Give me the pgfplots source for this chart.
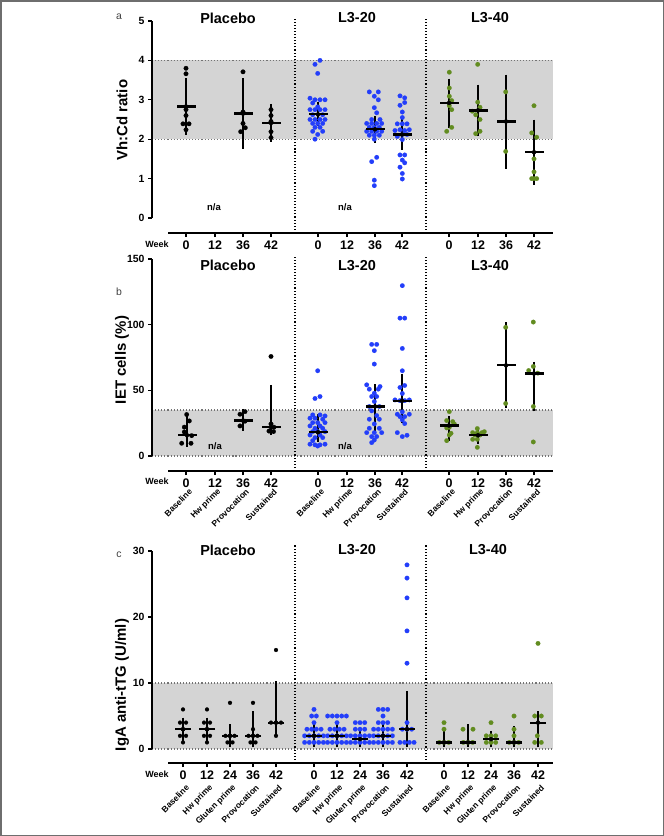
\documentclass[border=0pt]{standalone}
\usepackage{fontspec}
\setmainfont{Liberation Sans}
\usepackage{pgfplots}
\pgfplotsset{compat=1.18}
\definecolor{ptblue}{RGB}{35,62,250}
\definecolor{ptgreen}{RGB}{98,140,32}
\definecolor{shade}{RGB}{212,212,212}
\definecolor{framegray}{RGB}{110,110,110}
\pgfplotsset{
  gp/.style={
    scale only axis, width=401bp, height=212bp,
    xmin=152, xmax=553,
    axis line style={draw=none},
    tick align=outside, xtick pos=bottom, ytick pos=left,
    major tick length=4bp,
    tick style={black, line width=1.3bp},
    clip=false,
    /pgf/number format/assume math mode=true,
    yticklabel style={font=\bfseries\fontsize{10.5}{12}\selectfont},
    xticklabel style={font=\bfseries\fontsize{12.5}{14}\selectfont},
    anchor=south west,
  },
  catlabels/.style={extra x tick style={major tick length=0pt,
     xticklabel style={xshift=7bp, yshift=#1, rotate=45, anchor=east, font=\bfseries\fontsize{8.5}{10}\selectfont}}},
  dots/.style={only marks, mark=*, mark size=2.3bp, color=#1, mark options={solid, draw=#1, fill=#1, line width=0.1pt}},
  meanbar/.style={only marks, mark=-, mark size=#1, mark options={line width=2.2bp, draw=black}},
  errb/.style={only marks, mark=none, error bars/.cd, y dir=both, y explicit,
    error bar style={line width=1.2bp, draw=#1},
    error mark options={mark size=5bp, line width=1.2bp, draw=#1}},
}
\tikzset{
  divider/.style={black, dotted, line width=1.1bp},
  shadeedge/.style={black!55, dotted, line width=1.1bp},
  grouptitle/.style={font=\bfseries\fontsize{14.5}{16}\selectfont},
  na/.style={font=\bfseries\fontsize{9.5}{11}\selectfont},
}
\begin{document}
\begin{tikzpicture}
\useasboundingbox (0,0) rectangle (664bp,-836bp);
\draw[framegray, line width=1.5bp] (0.75bp,-0.75bp) rectangle (663.25bp,-835.25bp);

% ---------------- Panel a ----------------
\begin{axis}[gp, at={(152bp,-233bp)}, ymin=-0.381, ymax=5,
  ytick={0,1,2,3,4,5},
  xtick={186,215,243,271,318,347,375,402,449,478,506,534},
  xticklabels={0,12,36,42,0,12,36,42,0,12,36,42}]
\addplot[draw=none, fill=shade] coordinates {(152,2) (553,2) (553,4) (152,4)};
\addplot[shadeedge] coordinates {(152,2) (553,2)};
\addplot[shadeedge] coordinates {(152,4) (553,4)};
\addplot[divider] coordinates {(295,-0.381) (295,5.076)};
\addplot[divider] coordinates {(426,-0.381) (426,5.076)};
\draw[line width=1.5bp] (axis cs:152,0) -- (axis cs:152,5);
\draw[line width=1.5bp] (axis cs:168,-0.381) -- (axis cs:553,-0.381);
% placebo
\addplot[dots=black] coordinates {(186,3.80) (186,3.66) (186,2.75) (186,2.60) (183,2.39) (189,2.39) (186,2.24)
 (243,3.71) (243,2.69) (243,2.40) (245.3,2.29) (240.7,2.19)
 (271,2.75) (271,2.60) (271,2.45) (271,2.19) (271,2.04)};
% L3-20
\addplot[dots=ptblue] coordinates {(320,4.00) (315,3.90) (317.7,3.67) (310,3.04) (315,3.00) (320,3.00) (325,3.00) (312.7,2.92) (317.7,2.82) (310,2.75) (315,2.75) (320,2.75) (325,2.75) (312.7,2.62) (322.7,2.62) (310,2.50) (315,2.50) (320,2.50) (325,2.50) (312.7,2.40) (317.7,2.40) (322.7,2.40) (315,2.30) (320,2.30) (312.7,2.20) (322.7,2.20) (317.7,2.12) (315,2.00)
 (369.3,3.20) (378.3,3.20) (374.3,3.09) (378.3,3.00) (374.3,2.80) (376.7,2.67) (371.7,2.50) (380,2.50) (366.7,2.40) (371.7,2.40) (376.7,2.40) (381.7,2.40) (369.3,2.30) (374.3,2.30) (379.3,2.30) (366.7,2.20) (371.7,2.20) (376.7,2.20) (381.7,2.20) (369.3,2.10) (374.3,2.10) (379.3,2.10) (374.3,2.00) (376.7,1.54) (371.7,1.43) (374.3,0.96) (374.3,0.82)
 (400,3.10) (404.7,3.05) (404.7,2.93) (400,2.86) (402.3,2.69) (402.3,2.55) (397.3,2.39) (402.3,2.39) (407,2.39) (395,2.22) (400,2.24) (404.7,2.22) (409.3,2.24) (397.3,2.07) (402.3,2.12) (407,2.12) (402.3,1.99) (400,1.60) (404.7,1.60) (402.3,1.47) (404.7,1.40) (400,1.29) (402.3,1.13) (402.3,0.99)};
% L3-40
\addplot[dots=ptgreen] coordinates {(449.3,3.70) (449.3,3.30) (449.3,3.09) (451.7,2.98) (449.3,2.85) (451.7,2.75) (451.7,2.30) (446.7,2.20)
 (477.7,3.90) (477.7,2.94) (480,2.81) (472.3,2.71) (475.7,2.62) (480,2.50) (480,2.20) (475.7,2.14)
 (505.7,3.20) (505.7,1.69)
 (534,2.85) (531.7,2.16) (536.7,2.05) (534,1.50) (534,1.17) (531.7,1.00) (534,1.00) (536.7,1.00)};
\addplot[errb=black] coordinates {(186,2.83) += (0,0.59) -= (0,0.59) (243,2.65) += (0,0.77) -= (0,0.76) (271,2.41) += (0,0.36) -= (0,0.35)
 (318,2.63) += (0,0.18) -= (0,0.18) (375,2.25) += (0,0.21) -= (0,0.21) (402,2.12) += (0,0.27) -= (0,0.27)
 (449,2.92) += (0,0.49) -= (0,0.51) (478,2.73) += (0,0.53) -= (0,0.53) (506,2.45) += (0,1.06) -= (0,1.07) (534,1.67) += (0,0.70) -= (0,0.70)};
\addplot[meanbar=9.5bp] coordinates {(186,2.83) (243,2.65) (271,2.41) (318,2.63) (375,2.25) (402,2.12) (449,2.92) (478,2.73) (506,2.45) (534,1.67)};
\node[grouptitle] at (axis cs:228,5.076) {Placebo};
\node[grouptitle] at (axis cs:357,5.076) {L3-20};
\node[grouptitle] at (axis cs:490,5.076) {L3-40};
\node[na] at (axis cs:214,0.28) {n/a};
\node[na] at (axis cs:345,0.28) {n/a};
\end{axis}

% ---------------- Panel b ----------------
\begin{axis}[gp, catlabels=-17bp, at={(152bp,-471bp)}, ymin=-11.42, ymax=150,
  ytick={0,50,100,150},
  xtick={186,215,243,271,318,347,375,402,449,478,506,534},
  xticklabels={0,12,36,42,0,12,36,42,0,12,36,42},
  extra x ticks={186,215,243,271,318,347,375,402,449,478,506,534},
  extra x tick labels={Baseline,Hw prime,Provocation,Sustained,Baseline,Hw prime,Provocation,Sustained,Baseline,Hw prime,Provocation,Sustained}]
\addplot[draw=none, fill=shade] coordinates {(152,0) (553,0) (553,35) (152,35)};
\addplot[shadeedge] coordinates {(152,0) (553,0)};
\addplot[shadeedge] coordinates {(152,35) (553,35)};
\addplot[divider] coordinates {(295,-11.42) (295,151.5)};
\addplot[divider] coordinates {(426,-11.42) (426,151.5)};
\draw[line width=1.5bp] (axis cs:152,0) -- (axis cs:152,150);
\draw[line width=1.5bp] (axis cs:168,-11.42) -- (axis cs:553,-11.42);
\addplot[dots=black] coordinates {(186.7,31.6) (189.3,26.7) (184.3,22) (184.3,18.3) (191.7,15.5) (181.7,9.7) (191,9.7)
 (245,33.8) (240,31.8) (245,26.5) (240,22.9)
 (271,75.8) (271,24.4) (274,21.9) (269,19.0) (273.5,18.6)};
\addplot[dots=ptblue] coordinates {(317.7,64.9) (315,43.8) (320,45.3) (312.7,31.3) (320,31.3) (325,30.5) (310,28.8) (315,28.8) (322.7,28) (312.7,25.4) (317.7,25.4) (325,25.4) (310,22.9) (320,22.9) (315,21.1) (322.7,21.1) (312.7,18.6) (317.7,18.6) (325,18.6) (310,16) (320,16) (315,14) (322.7,14) (312.7,11.7) (310,9) (315,8.5) (320,8.5) (325,9) (317.7,7.6)
 (371.7,85) (376.7,85) (374.3,80.2) (374.3,70) (366.7,54.2) (380,52.9) (369.3,50.9) (378.3,50.9) (374.3,47.8) (371.7,45.3) (376.7,45.3) (374.3,41.5) (369.3,37.7) (379.3,37.7) (371.7,34.4) (376.7,30.8) (369.3,28) (379.3,28) (374.3,24.4) (369.3,21.1) (379.3,21.1) (366.7,17.8) (374.3,17.8) (381.7,17.8) (371.7,14.8) (376.7,14.8) (374.3,12.2) (371.7,10.2)
 (402.3,129.7) (400,105) (404.7,105) (402.3,81.9) (402.3,64.9) (400,52.2) (404.7,53.7) (402.3,47.6) (395,42.7) (400,42.2) (404.7,42.2) (409.3,42.7) (402.3,33.6) (397.3,31.8) (409.3,31.8) (400,30) (404.7,30) (402.3,27.5) (404.7,24.7) (397.3,17.8) (402.3,14.8) (407,15.8)};
\addplot[dots=ptgreen] coordinates {(449.3,33.8) (446.7,27) (452.7,26.2) (454.3,24.4) (449.3,21.9) (446.7,21.4) (451,17.3) (449.3,16) (446.7,11.7)
 (477.3,20.9) (472.7,17.8) (477.3,17.8) (482,17.8) (484.3,18.5) (475,16) (480,16) (472.7,12.7) (477.3,12.7) (477.3,6.6)
 (505.7,98) (505.7,40)
 (533.3,102) (533.3,68.2) (528.7,65.1) (537.7,63.1) (533.3,37.7) (533.3,10.7)};
\addplot[errb=black] coordinates {(187,15.8) += (0,10.9) -= (0,4.9) (243,27) += (0,5) -= (0,4) (271,21.9) += (0,28.5) -= (0,2.1)
 (318,18.1) += (0,9.9) -= (0,3.3) (375,37.7) += (0,13.2) -= (0,16.6) (402,42) += (0,16.8) -= (0,13.2)
 (449,23.2) += (0,3.3) -= (0,7.9) (478,15.8) += (0,2) -= (0,2.6) (506,69) += (0,29) -= (0,29) (534,62.8) += (0,5.1) -= (0,25.1)};
\addplot[meanbar=9.5bp] coordinates {(187,15.8) (243,27) (271,21.9) (318,18.1) (375,37.7) (402,42) (449,23.2) (478,15.8) (506,69) (534,62.8)};
\node[grouptitle] at (axis cs:228,145.4) {Placebo};
\node[grouptitle] at (axis cs:357,145.4) {L3-20};
\node[grouptitle] at (axis cs:490,145.4) {L3-40};
\node[na] at (axis cs:215,7.6) {n/a};
\node[na] at (axis cs:345,7.6) {n/a};
\end{axis}

% ---------------- Panel c ----------------
\begin{axis}[gp, catlabels=-21bp, at={(152bp,-763bp)}, ymin=-2.12, ymax=30,
  ytick={0,10,20,30},
  xtick={183,207,230,253,276,314,337,360,383,407,444,468,491,514,538},
  xticklabels={0,12,24,36,42,0,12,24,36,42,0,12,24,36,42},
  extra x ticks={183,207,230,253,276,314,337,360,383,407,444,468,491,514,538},
  extra x tick labels={Baseline,Hw prime,Gluten prime,Provocation,Sustained,Baseline,Hw prime,Gluten prime,Provocation,Sustained,Baseline,Hw prime,Gluten prime,Provocation,Sustained}]
\addplot[draw=none, fill=shade] coordinates {(152,0) (553,0) (553,10) (152,10)};
\addplot[shadeedge] coordinates {(152,0) (553,0)};
\addplot[shadeedge] coordinates {(152,10) (553,10)};
\addplot[divider] coordinates {(295,-2.12) (295,30.9)};
\addplot[divider] coordinates {(426,-2.12) (426,30.9)};
\draw[line width=1.5bp] (axis cs:152,0) -- (axis cs:152,30);
\draw[line width=1.5bp] (axis cs:168,-2.12) -- (axis cs:553,-2.12);
\addplot[dots=black, mark size=2bp] coordinates {(183,6) (180,4) (186,4) (183,3) (180,2) (186,2) (183,1)
 (207,6) (204,4) (210,4) (207,3) (204,2) (210,2) (207,1)
 (230,7) (225.5,2) (230,2) (234.5,2) (227.5,1) (232.5,1)
 (253,7) (253,3) (248.5,2) (257.5,2) (250.5,1) (255.5,1)
 (276,15) (271,4) (276,4) (281,4) (276,2)};
\addplot[dots=ptblue] coordinates {(314,6) (311.65,5) (316.35,5) (314,4) (306.95,3) (311.65,3) (316.35,3) (321.05,3) (304.6,2) (309.3,2) (314,2) (318.7,2) (323.4,2) (304.6,1) (309.3,1) (314,1) (318.7,1) (323.4,1)
 (327.6,5) (332.3,5) (337,5) (341.7,5) (346.4,5) (337,4) (329.95,3) (334.65,3) (339.35,3) (344.05,3) (327.6,2) (332.3,2) (337,2) (341.7,2) (346.4,2) (327.6,1) (332.3,1) (337,1) (341.7,1) (346.4,1)
 (355.3,4) (360,4) (364.7,4) (355.3,3) (360,3) (364.7,3) (350.6,2) (355.3,2) (360,2) (364.7,2) (369.4,2) (350.6,1) (355.3,1) (360,1) (364.7,1) (369.4,1)
 (378.3,6) (383,6) (387.7,6) (383,5) (378.3,4) (383,4) (387.7,4) (373.6,3) (378.3,3) (383,3) (387.7,3) (392.4,3) (373.6,2) (378.3,2) (383,2) (387.7,2) (392.4,2) (373.6,1) (378.3,1) (383,1) (387.7,1) (392.4,1)
 (407,27.9) (407,25.9) (407,22.9) (407,17.9) (407,13) (407,4) (402.3,3) (407,3) (411.7,3) (399.95,1) (404.65,1) (409.35,1) (414.05,1)};
\addplot[dots=ptgreen] coordinates {(444,4) (444,3) (439.3,1) (444,1) (448.7,1)
 (463,3) (473,3) (463.3,1) (468,1) (472.7,1)
 (491,4) (486.3,2) (491,2) (495.7,2) (486.3,1) (491,1) (495.7,1)
 (514,5) (514,3) (514,2) (509.3,1) (514,1) (518.7,1)
 (538,16) (534.7,5) (541.3,5) (537.3,2) (534.7,1) (541.3,1)};
\addplot[errb=black] coordinates {(183,3) += (0,1) -= (0,1) (207,3) += (0,1) -= (0,1) (230,2) += (0,1) -= (0,1) (253,2) += (0,3) -= (0,1) (276,4) += (0,5.5) -= (0,1)
 (314,2) += (0,1) -= (0,1) (337,2) += (0,1) -= (0,1) (360,1.5) += (0,0.5) -= (0,0.5) (383,2) += (0,1) -= (0,1) (407,3) += (0,5) -= (0,2)
 (444,1) += (0,1.5) -= (0,0) (468,1) += (0,2) -= (0,0) (491,1.5) += (0,0.5) -= (0,0.5) (514,1) += (0,1.7) -= (0,0) (538,4) += (0,1) -= (0,3)};
\addplot[meanbar=8bp] coordinates {(183,3) (207,3) (230,2) (253,2) (276,4) (314,2) (337,2) (360,1.5) (383,2) (407,3) (444,1) (468,1) (491,1.5) (514,1) (538,4)};
\node[grouptitle] at (axis cs:228,30.15) {Placebo};
\node[grouptitle] at (axis cs:357,30.15) {L3-20};
\node[grouptitle] at (axis cs:488,30.15) {L3-40};
\end{axis}

% ---------------- labels outside axes ----------------
\foreach \yy in {244,481,774} {
  \node[font=\bfseries\fontsize{9}{10}\selectfont] at (157bp,-\yy bp) {Week};
}
\node[font=\fontsize{10.5}{12}\selectfont, text=black!75] at (119bp,-17bp) {a};
\node[font=\fontsize{10.5}{12}\selectfont, text=black!75] at (119bp,-292bp) {b};
\node[font=\fontsize{10.5}{12}\selectfont, text=black!75] at (119bp,-555bp) {c};
\node[rotate=90, font=\bfseries\fontsize{15}{17}\selectfont] at (122bp,-120bp) {Vh:Cd ratio};
\node[rotate=90, font=\bfseries\fontsize{15}{17}\selectfont] at (122bp,-360bp) {IET cells (\%)};
\node[rotate=90, font=\bfseries\fontsize{15}{17}\selectfont] at (122bp,-685bp) {IgA anti-tTG (U/ml)};
\end{tikzpicture}
\end{document}
